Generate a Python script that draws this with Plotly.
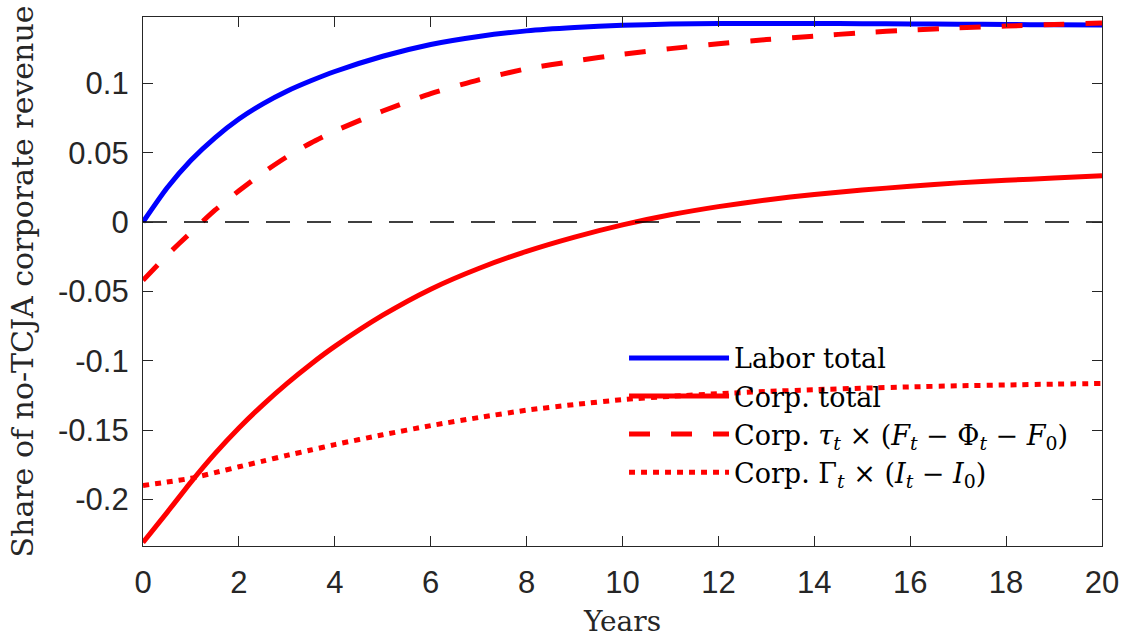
import plotly.graph_objects as go

years = [0, 0.5, 1, 1.5, 2, 2.5, 3, 3.5, 4, 5, 6, 7, 8, 9, 10, 11, 12, 13, 14, 15, 16, 17, 18, 19, 20]

labor_total = [0.0, 0.0245, 0.0445, 0.0607, 0.0742, 0.0852, 0.0943, 0.1018, 0.1085, 0.1195, 0.128,
               0.1338, 0.1378, 0.1402, 0.1418, 0.1427, 0.1431, 0.1432, 0.1431, 0.143, 0.1428,
               0.1426, 0.1424, 0.1422, 0.142]

corp_total = [-0.231, -0.2095, -0.1875, -0.167, -0.1485, -0.1318, -0.1165, -0.1025, -0.0897,
              -0.0672, -0.0484, -0.0335, -0.0212, -0.0109, -0.0021, 0.0052, 0.0111, 0.0159,
              0.0199, 0.023, 0.0258, 0.0282, 0.0301, 0.0317, 0.0334]

corp_tau = [-0.042, -0.024, -0.0075, 0.0085, 0.0225, 0.0355, 0.047, 0.057, 0.0656, 0.080, 0.0925,
            0.1025, 0.1105, 0.116, 0.121, 0.125, 0.1285, 0.1315, 0.134, 0.1365, 0.1384, 0.140,
            0.1413, 0.1424, 0.1435]

corp_gamma = [-0.190, -0.1875, -0.1848, -0.1807, -0.1765, -0.1724, -0.1683, -0.1644, -0.1605,
              -0.1534, -0.1468, -0.1410, -0.1357, -0.1316, -0.1281, -0.1257, -0.1238, -0.1222,
              -0.1209, -0.1198, -0.1189, -0.1181, -0.1175, -0.1169, -0.1164]

zero_x = [0, 20]
zero_y = [0, 0]

x_ticks = [0, 2, 4, 6, 8, 10, 12, 14, 16, 18, 20]
y_ticks = [-0.2, -0.15, -0.1, -0.05, 0, 0.05, 0.1]
y_tick_text = ["-0.2", "-0.15", "-0.1", "-0.05", "0", "0.05", "0.1"]

names = [
    "Labor total",
    "Corp. total",
    "Corp. <i>τ</i><sub><i>t</i></sub> × (<i>F</i><sub><i>t</i></sub> − Φ<sub><i>t</i></sub> − <i>F</i><sub>0</sub>)",
    "Corp. Γ<sub><i>t</i></sub> × (<i>I</i><sub><i>t</i></sub> − <i>I</i><sub>0</sub>)",
]

SERIF = "DejaVu Serif, Liberation Serif, serif"
SANS = "Liberation Sans, Arial, sans-serif"

fig = go.Figure()
fig.add_trace(go.Scatter(x=years, y=labor_total, mode="lines", name=names[0],
                         line=dict(color="#0000ff", width=5, shape="spline", smoothing=0.6)))
fig.add_trace(go.Scatter(x=years, y=corp_total, mode="lines", name=names[1],
                         line=dict(color="#ff0000", width=5, shape="spline", smoothing=0.6)))
fig.add_trace(go.Scatter(x=years, y=corp_tau, mode="lines", name=names[2],
                         line=dict(color="#ff0000", width=5, dash="21px,21px", shape="spline", smoothing=0.6)))
fig.add_trace(go.Scatter(x=years, y=corp_gamma, mode="lines", name=names[3],
                         line=dict(color="#ff0000", width=5, dash="6px,6px", shape="spline", smoothing=0.6)))
fig.add_trace(go.Scatter(x=zero_x, y=zero_y, mode="lines", showlegend=False, hoverinfo="skip",
                         line=dict(color="#000000", width=1.3, dash="24px,17px")))

axis_common = dict(
    showline=True, linecolor="#262626", linewidth=1.3, mirror="ticks",
    ticks="inside", ticklen=10, tickwidth=1.3, tickcolor="#262626",
    showgrid=False, zeroline=False,
    tickfont=dict(family=SANS, size=31, color="#262626"),
)

fig.update_layout(
    autosize=True,
    margin=dict(l=143, r=21, t=17, b=92),
    paper_bgcolor="white", plot_bgcolor="white",
    xaxis=dict(range=[0, 20], tickvals=x_ticks, ticktext=[str(v) for v in x_ticks],
               ticklabelstandoff=9,
               title=dict(text="Years", standoff=12,
                          font=dict(family=SERIF, size=28, color="#262626")),
               **axis_common),
    yaxis=dict(range=[-0.2336, 0.1478], tickvals=y_ticks, ticktext=y_tick_text,
               ticklabelstandoff=7,
               title=dict(text="Share of no-TCJA corporate revenue", standoff=15,
                          font=dict(family=SERIF, size=30, color="#262626")),
               **axis_common),
    legend=dict(x=0.5016, y=0.401, xanchor="left", yanchor="top",
                bgcolor="rgba(0,0,0,0)", borderwidth=0,
                font=dict(family=SERIF, size=27, color="#000000"),
                itemwidth=100, tracegroupgap=0),
    showlegend=True,
)

post = ("document.documentElement.style.margin='0';"
        "document.documentElement.style.overflow='hidden';"
        "document.body.style.margin='0';"
        "document.body.style.overflow='hidden';"
        "var gd=document.getElementById('{plot_id}');"
        "if(window.Plotly&&gd){Plotly.Plots.resize(gd);}")

fig.write_html("out.html", post_script=post, default_width="100vw", default_height="100vh",
               config={"displayModeBar": False, "responsive": True})
